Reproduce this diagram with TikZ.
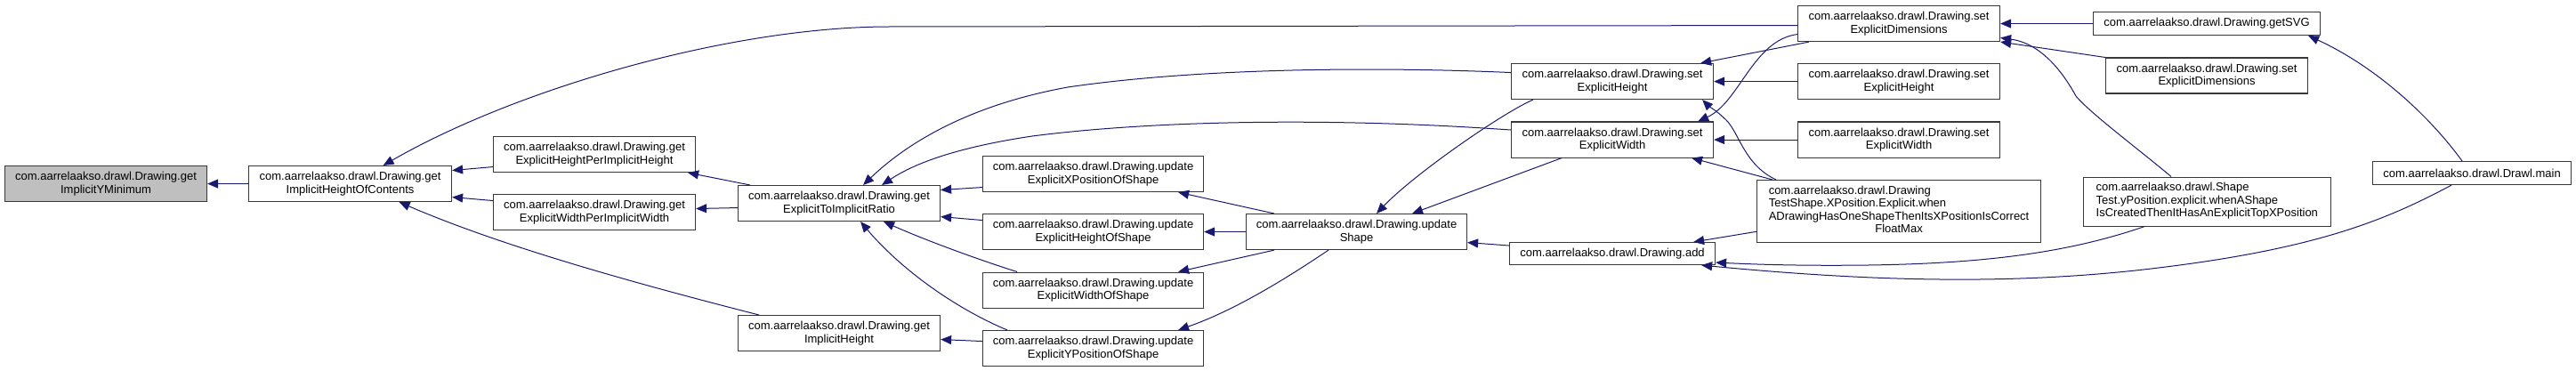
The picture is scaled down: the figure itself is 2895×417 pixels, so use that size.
\documentclass[tikz,border=0pt]{standalone}
\usepackage{fontspec}
\setmainfont{Liberation Sans}
\usetikzlibrary{arrows.meta}
\definecolor{navy}{RGB}{25,25,112}
\definecolor{rootgray}{RGB}{191,191,191}
\tikzset{
  fn/.style={draw=black!78, line width=1.1pt, fill=white, inner sep=0pt,
    anchor=north west, align=center, font=\fontsize{13}{14.5}\selectfont},
  root/.style={fn, fill=rootgray},
  call/.style={draw=navy, line width=1pt, -{Triangle[length=12pt,width=10pt]}, fill=none},
}
\begin{document}
\begin{tikzpicture}[x=1pt,y=-1pt]
\useasboundingbox (0,0) rectangle (2895,417);
% nodes
\node[root, minimum width=227pt, minimum height=40pt] (ymin) at (5,186) {com.aarrelaakso.drawl.Drawing.get\\ImplicitYMinimum};
\node[fn, minimum width=228pt, minimum height=40pt] (hoc) at (279,186) {com.aarrelaakso.drawl.Drawing.get\\ImplicitHeightOfContents};
\node[fn, minimum width=227pt, minimum height=40pt] (ehpih) at (554,153) {com.aarrelaakso.drawl.Drawing.get\\ExplicitHeightPerImplicitHeight};
\node[fn, minimum width=227pt, minimum height=40pt] (ewpiw) at (554,218) {com.aarrelaakso.drawl.Drawing.get\\ExplicitWidthPerImplicitWidth};
\node[fn, minimum width=227pt, minimum height=40pt] (etoir) at (829,208) {com.aarrelaakso.drawl.Drawing.get\\ExplicitToImplicitRatio};
\node[fn, minimum width=227pt, minimum height=40pt] (gih) at (829,354) {com.aarrelaakso.drawl.Drawing.get\\ImplicitHeight};
\node[fn, minimum width=248pt, minimum height=40pt] (uxpos) at (1104,175) {com.aarrelaakso.drawl.Drawing.update\\ExplicitXPositionOfShape};
\node[fn, minimum width=248pt, minimum height=40pt] (uhos) at (1104,240) {com.aarrelaakso.drawl.Drawing.update\\ExplicitHeightOfShape};
\node[fn, minimum width=248pt, minimum height=40pt] (uwos) at (1104,305.5) {com.aarrelaakso.drawl.Drawing.update\\ExplicitWidthOfShape};
\node[fn, minimum width=248pt, minimum height=40pt] (uypos) at (1104,371) {com.aarrelaakso.drawl.Drawing.update\\ExplicitYPositionOfShape};
\node[fn, minimum width=248pt, minimum height=40pt] (ushape) at (1400,240) {com.aarrelaakso.drawl.Drawing.update\\Shape};
\node[fn, minimum width=227pt, minimum height=40pt] (sehm) at (1698,71) {com.aarrelaakso.drawl.Drawing.set\\ExplicitHeight};
\node[fn, minimum width=227pt, minimum height=40pt] (sewm) at (1698,136.5) {com.aarrelaakso.drawl.Drawing.set\\ExplicitWidth};
\node[fn, minimum width=231pt, minimum height=25pt] (add) at (1696,272) {com.aarrelaakso.drawl.Drawing.add};
\node[fn, minimum width=227pt, minimum height=40pt] (sed) at (2020,6) {com.aarrelaakso.drawl.Drawing.set\\ExplicitDimensions};
\node[fn, minimum width=227pt, minimum height=40pt] (sehr) at (2020,71) {com.aarrelaakso.drawl.Drawing.set\\ExplicitHeight};
\node[fn, minimum width=227pt, minimum height=40pt] (sewr) at (2020,136.5) {com.aarrelaakso.drawl.Drawing.set\\ExplicitWidth};
\node[fn, minimum width=319pt, minimum height=69.5pt] (dts) at (1974,202) {\begin{tabular}{@{}l@{}}com.aarrelaakso.drawl.Drawing\\TestShape.XPosition.Explicit.when\\ADrawingHasOneShapeThenItsXPositionIsCorrect\\\multicolumn{1}{@{}c@{}}{FloatMax}\end{tabular}};
\node[fn, minimum width=255pt, minimum height=26pt] (svg) at (2352,13) {com.aarrelaakso.drawl.Drawing.getSVG};
\node[fn, minimum width=227pt, minimum height=40pt] (sed2) at (2366,64.5) {com.aarrelaakso.drawl.Drawing.set\\ExplicitDimensions};
\node[fn, minimum width=277.5pt, minimum height=55pt] (st) at (2341,198.5) {\begin{tabular}{@{}l@{}}com.aarrelaakso.drawl.Shape\\Test.yPosition.explicit.whenAShape\\IsCreatedThenItHasAnExplicitTopXPosition\end{tabular}};
\node[fn, minimum width=223pt, minimum height=26pt] (main) at (2666,181) {com.aarrelaakso.drawl.Drawl.main};
% edges
\draw[call] (hoc.west) -- (ymin.east);
\draw[call] ([yshift=-14pt]ehpih.west) -- ([yshift=15pt]hoc.east);
\draw[call] ([yshift=13pt]ewpiw.west) -- ([yshift=-15pt]hoc.east);
\draw[call] ([yshift=-2pt]sed.west) -- (1000,30) .. controls (820,30) and (580,100) .. ([xshift=37pt]hoc.north);
\draw[call] ([xshift=24pt]gih.north west) .. controls (700,315) and (560,275) .. ([xshift=55pt]hoc.south);
\draw[call] ([xshift=14pt]etoir.north west) -- ([xshift=105pt]ehpih.south);
\draw[call] ([yshift=-5pt]etoir.west) -- ([yshift=4pt]ewpiw.east);
\draw[call] ([yshift=10pt]sehm.west) .. controls (1550,75) and (1350,76) .. (1200,98) .. controls (1090,118) and (1020,160) .. ([xshift=27pt]etoir.north);
\draw[call] ([yshift=11pt]sewm.west) .. controls (1500,132) and (1300,135) .. (1160,153) .. controls (1080,165) and (1030,182) .. ([xshift=48pt]etoir.north);
\draw[call] ([yshift=-15pt]uxpos.west) -- ([yshift=15pt]etoir.east);
\draw[call] ([yshift=13pt]uhos.west) -- ([yshift=-15pt]etoir.east);
\draw[call] ([xshift=39pt]uwos.north west) .. controls (1100,292) and (1040,270) .. ([xshift=50pt]etoir.south);
\draw[call] ([xshift=28pt]uypos.north west) .. controls (1070,345) and (1010,300) .. ([xshift=24pt]etoir.south);
\draw[call] ([yshift=8pt]uypos.west) -- ([yshift=-7pt]gih.east);
\draw[call] ([xshift=32pt]ushape.north west) -- ([xshift=-29pt]uxpos.south east);
\draw[call] (ushape.west) -- (uhos.east);
\draw[call] ([xshift=32pt]ushape.south west) -- ([xshift=-29pt]uwos.north east);
\draw[call] ([xshift=93pt]ushape.south west) .. controls (1450,310) and (1390,348) .. ([xshift=-29pt]uypos.north east);
\draw[call] ([xshift=25pt]sehm.south west) .. controls (1690,126) and (1590,195) .. ([xshift=147pt]ushape.north west);
\draw[call] ([xshift=57pt]sewm.south west) -- ([xshift=187pt]ushape.north west);
\draw[call] ([yshift=9pt]add.west) -- ([yshift=-12pt]ushape.east);
\draw[call] ([xshift=13pt]sed.south west) -- ([xshift=-15pt]sehm.north east);
\draw[call] ([yshift=-12pt]sed.west) .. controls (1970,45) and (1955,115) .. ([xshift=-18pt]sewm.north east);
\draw[call] (sehr.west) -- (sehm.east);
\draw[call] (sewr.west) -- (sewm.east);
\draw[call] ([xshift=22pt]dts.north west) .. controls (1960,185) and (1955,150) .. (1940,135) .. controls (1930,125) and (1920,119) .. ([xshift=-13pt]sehm.south east);
\draw[call] ([xshift=18pt]dts.north west) -- ([xshift=-25pt]sewm.south east);
\draw[call] ([yshift=-23pt]dts.west) -- ([xshift=-25pt]add.north east);
\draw[call] (svg.west) -- (sed.east);
\draw[call] (sed2.north west) -- (sed.south east);
\draw[call] ([xshift=99pt]st.north west) .. controls (2400,165) and (2350,128) .. (2333,108) .. controls (2315,75) and (2290,48) .. ([yshift=-16pt]sed.east);
\draw[call] ([xshift=69pt]st.south west) .. controls (2330,282) and (2240,296) .. (2100,298) .. controls (2020,299) and (1970,297) .. ([yshift=-10pt]add.east);
\draw[call] ([xshift=89pt]main.south west) .. controls (2680,248) and (2600,282) .. (2400,304) .. controls (2250,320) and (2100,316) .. ([xshift=-16pt]add.south east);
\draw[call] ([xshift=101pt]main.north west) .. controls (2730,130) and (2670,75) .. ([xshift=-14pt]svg.south east);
\end{tikzpicture}
\end{document}
